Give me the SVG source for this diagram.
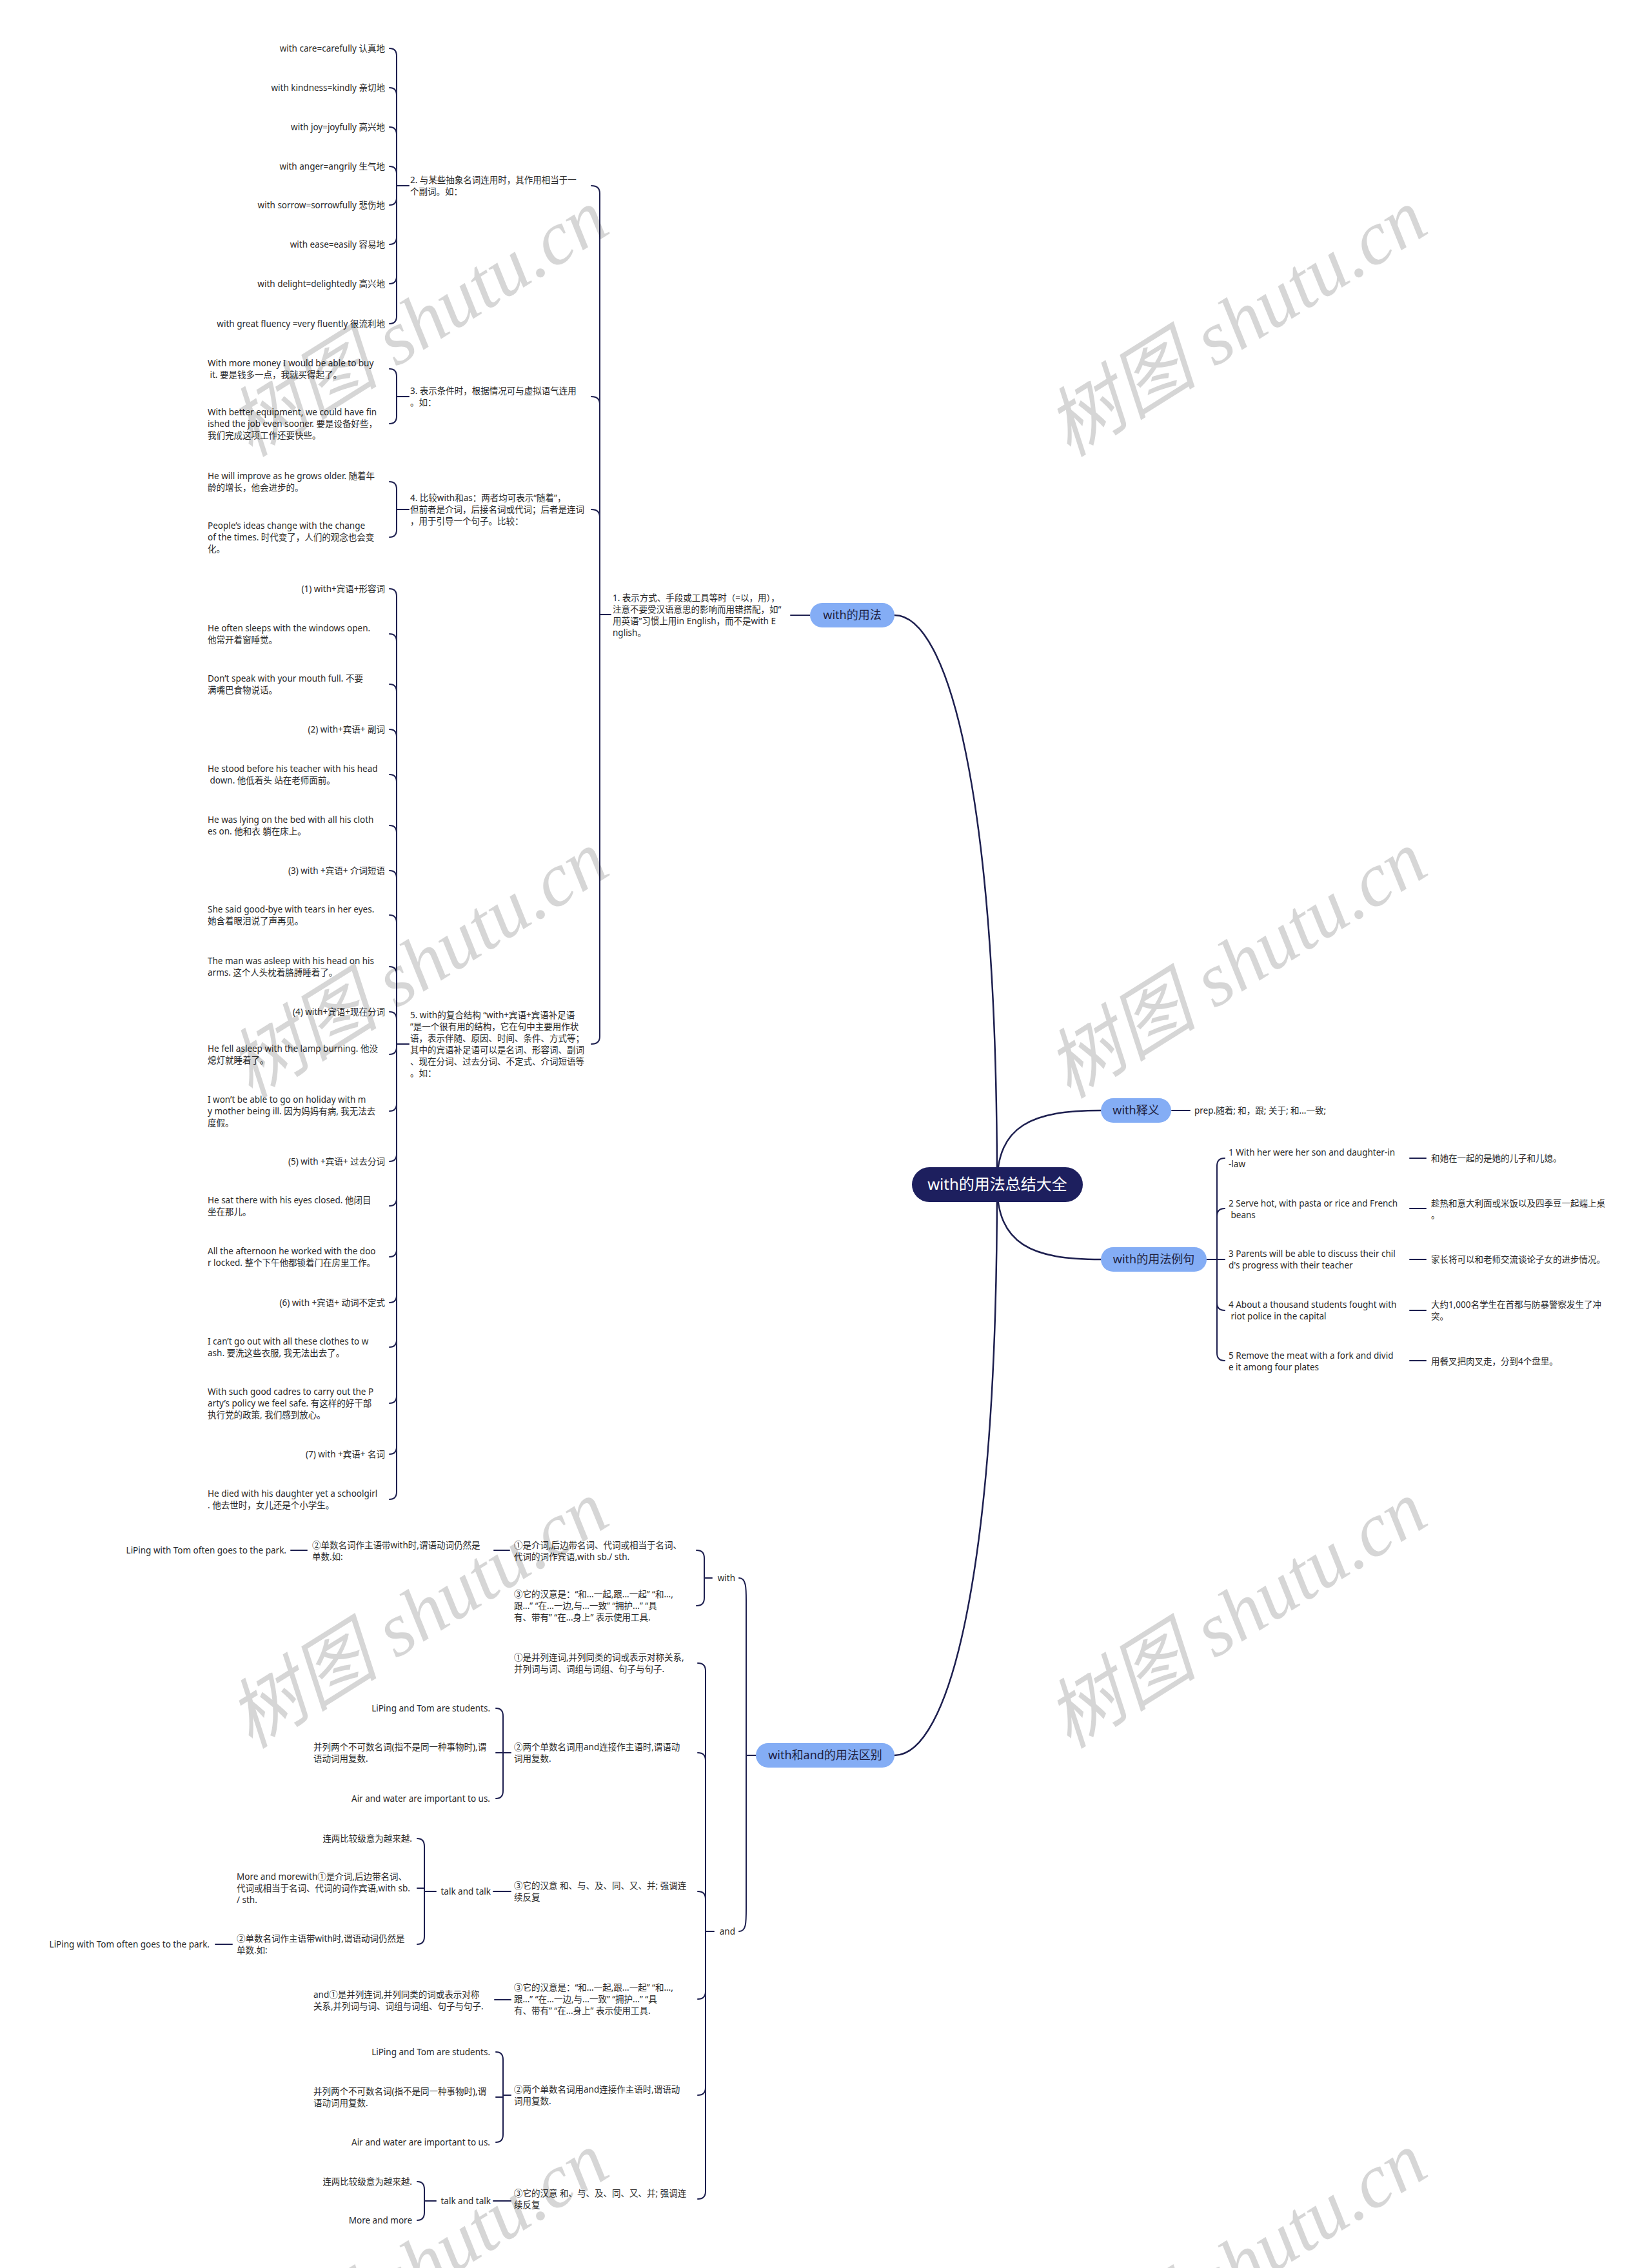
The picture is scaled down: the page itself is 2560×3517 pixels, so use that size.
<svg xmlns="http://www.w3.org/2000/svg" width="2560" height="3517" viewBox="0 0 2560 3517" xml:space="preserve">
<style>
.t{font-family:"Noto Sans","Noto Sans CJK SC",sans-serif;font-size:13.5px;fill:#2a2a2a;white-space:pre}
.e{text-anchor:end}
.nt{font-family:"Noto Sans","Noto Sans CJK SC",sans-serif;font-size:18px;fill:#1e1f3f;text-anchor:middle}
.ct{font-family:"Noto Sans","Noto Sans CJK SC",sans-serif;font-size:24px;fill:#fff;text-anchor:middle}
.nb{fill:#84adf5}
.nc{fill:#1d1f5e}
.ln{fill:none;stroke:#1d1f4f;stroke-width:2;stroke-linecap:round}
.mn{stroke-width:2.5}
.wm{font-family:"Liberation Serif","Noto Sans CJK SC",serif;font-size:118px;font-style:italic;fill:#000;fill-opacity:0.16;text-anchor:middle}
</style>
<rect width="2560" height="3517" fill="#fff"/>
<g id="connectors">
<path class="ln mn" d="M1546 1837C1546 1230 1470 954 1387 954"/>
<path class="ln mn" d="M1546 1837C1546 2450 1470 2722 1387 2722"/>
<path class="ln mn" d="M1546 1837C1546 1745 1600 1722 1707 1722"/>
<path class="ln mn" d="M1546 1837C1546 1930 1600 1953 1707 1953"/>
<path class="ln" d="M1256 954H1226"/>
<path class="ln" d="M947 953H930M930 300V1607M917 288Q930 288 930 300M917 615Q930 615 930 627M917 790Q930 790 930 802M917 1619Q930 1619 930 1607"/>
<path class="ln" d="M634 288H615M615 87V490M604 75Q615 75 615 87M604 136Q615 136 615 148M604 197Q615 197 615 209M604 258Q615 258 615 270M604 318Q615 318 615 306M604 379Q615 379 615 367M604 440Q615 440 615 428M604 502Q615 502 615 490"/>
<path class="ln" d="M634 615H615M615 584V645M604 572Q615 572 615 584M604 657Q615 657 615 645"/>
<path class="ln" d="M634 790H615M615 759V821M604 747Q615 747 615 759M604 833Q615 833 615 821"/>
<path class="ln" d="M634 1619H615M615 925V2313M604 913Q615 913 615 925M604 983Q615 983 615 995M604 1061Q615 1061 615 1073M604 1131Q615 1131 615 1143M604 1201Q615 1201 615 1213M604 1280Q615 1280 615 1292M604 1350Q615 1350 615 1362M604 1419Q615 1419 615 1431M604 1499Q615 1499 615 1511M604 1569Q615 1569 615 1581M604 1635Q615 1635 615 1623M604 1723Q615 1723 615 1711M604 1801Q615 1801 615 1789M604 1870Q615 1870 615 1858M604 1949Q615 1949 615 1937M604 2020Q615 2020 615 2008M604 2089Q615 2089 615 2077M604 2176Q615 2176 615 2164M604 2255Q615 2255 615 2243M604 2325Q615 2325 615 2313"/>
<path class="ln" d="M1817 1722H1845"/>
<path class="ln" d="M1871 1953H1887M1887 1808V2098M1899 1796Q1887 1796 1887 1808M1899 1874Q1887 1874 1887 1886M1887 1953H1899M1899 2032Q1887 2032 1887 2020M1899 2110Q1887 2110 1887 2098"/>
<path class="ln" d="M2186 1796H2211M2186 1874H2211M2186 1953H2211M2186 2032H2211M2186 2110H2211"/>
<path class="ln" d="M1172 2722H1157M1146 2447C1158 2447 1157 2465 1157 2490V2950C1157 2980 1158 2995 1146 2995"/>
<path class="ln" d="M1104 2447H1092M1092 2416V2478M1080 2404Q1092 2404 1092 2416M1080 2490Q1092 2490 1092 2478"/>
<path class="ln" d="M1107 2995H1094M1094 2591V3398M1082 2579Q1094 2579 1094 2591M1082 2718Q1094 2718 1094 2730M1082 2933Q1094 2933 1094 2945M1082 3100Q1094 3100 1094 3088M1082 3249Q1094 3249 1094 3237M1082 3410Q1094 3410 1094 3398"/>
<path class="ln" d="M766 2404H790M451 2404H476"/>
<path class="ln" d="M792 2718H780M780 2661V2777M769 2649Q780 2649 780 2661M769 2718H780M769 2789Q780 2789 780 2777"/>
<path class="ln" d="M765 2933H792M676 2933H658M658 2863V3003M647 2851Q658 2851 658 2863M647 2928H658M647 3015Q658 3015 658 3003M334 3015H360"/>
<path class="ln" d="M767 3101H792"/>
<path class="ln" d="M792 3249H780M780 3194V3310M769 3182Q780 3182 780 3194M769 3252H780M769 3322Q780 3322 780 3310"/>
<path class="ln" d="M765 3413H792M676 3413H658M658 3395V3431M647 3383Q658 3383 658 3395M647 3443Q658 3443 658 3431"/>
</g>
<g id="root"><rect class="nc" x="1414" y="1810" width="265" height="54" rx="27"/><text class="ct" x="1546.5" y="1845">with的用法总结大全</text></g>
<g id="b-usage"><rect class="nb" x="1256" y="935" width="131" height="38" rx="19"/><text class="nt" x="1321.5" y="960">with的用法</text></g>
<g id="b-meaning"><rect class="nb" x="1707" y="1703" width="109" height="38" rx="19"/><text class="nt" x="1761.5" y="1728">with释义</text></g>
<g id="b-examples"><rect class="nb" x="1707" y="1934" width="164" height="38" rx="19"/><text class="nt" x="1789" y="1959">with的用法例句</text></g>
<g id="b-diff"><rect class="nb" x="1172" y="2703" width="215" height="38" rx="19"/><text class="nt" x="1279.5" y="2728">with和and的用法区别</text></g>

<g id="s1"><text class="t"><tspan x="950" y="932">1. 表示方式、手段或工具等时（=以，用），</tspan><tspan x="950" y="950">注意不要受汉语意思的影响而用错搭配，如“</tspan><tspan x="950" y="968">用英语”习惯上用in English，而不是with E</tspan><tspan x="950" y="986">nglish。</tspan></text></g>
<g id="s2"><text class="t"><tspan x="636" y="284">2. 与某些抽象名词连用时，其作用相当于一</tspan><tspan x="636" y="302">个副词。如：</tspan></text></g>
<g id="s3"><text class="t"><tspan x="636" y="611">3. 表示条件时，根据情况可与虚拟语气连用</tspan><tspan x="636" y="629">。如：</tspan></text></g>
<g id="s4"><text class="t"><tspan x="636" y="777">4. 比较with和as：两者均可表示“随着”，</tspan><tspan x="636" y="795">但前者是介词，后接名词或代词；后者是连词</tspan><tspan x="636" y="813">，用于引导一个句子。比较：</tspan></text></g>
<g id="s5"><text class="t"><tspan x="636" y="1579">5. with的复合结构 “with+宾语+宾语补足语</tspan><tspan x="636" y="1597">”是一个很有用的结构，它在句中主要用作状</tspan><tspan x="636" y="1615">语，表示伴随、原因、时间、条件、方式等；</tspan><tspan x="636" y="1633">其中的宾语补足语可以是名词、形容词、副词</tspan><tspan x="636" y="1651">、现在分词、过去分词、不定式、介词短语等</tspan><tspan x="636" y="1669">。如：</tspan></text></g>

<g id="s2-1"><text class="t e" x="597" y="80">with care=carefully 认真地</text></g>
<g id="s2-2"><text class="t e" x="597" y="141">with kindness=kindly 亲切地</text></g>
<g id="s2-3"><text class="t e" x="597" y="202">with joy=joyfully 高兴地</text></g>
<g id="s2-4"><text class="t e" x="597" y="263">with anger=angrily 生气地</text></g>
<g id="s2-5"><text class="t e" x="597" y="323">with sorrow=sorrowfully 悲伤地</text></g>
<g id="s2-6"><text class="t e" x="597" y="384">with ease=easily 容易地</text></g>
<g id="s2-7"><text class="t e" x="597" y="445">with delight=delightedly 高兴地</text></g>
<g id="s2-8"><text class="t e" x="597" y="507">with great fluency =very fluently 很流利地</text></g>

<g id="s3-1"><text class="t"><tspan x="322" y="568">With more money I would be able to buy</tspan><tspan x="322" y="586"> it. 要是钱多一点，我就买得起了。</tspan></text></g>
<g id="s3-2"><text class="t"><tspan x="322" y="644">With better equipment, we could have fin</tspan><tspan x="322" y="662">ished the job even sooner. 要是设备好些，</tspan><tspan x="322" y="680">我们完成这项工作还要快些。</tspan></text></g>
<g id="s4-1"><text class="t"><tspan x="322" y="743">He will improve as he grows older. 随着年</tspan><tspan x="322" y="761">龄的增长，他会进步的。</tspan></text></g>
<g id="s4-2"><text class="t"><tspan x="322" y="820">People’s ideas change with the change</tspan><tspan x="322" y="838">of the times. 时代变了，人们的观念也会变</tspan><tspan x="322" y="856">化。</tspan></text></g>

<g id="s5-1"><text class="t e" x="597" y="918">(1) with+宾语+形容词</text></g>
<g id="s5-2"><text class="t"><tspan x="322" y="979">He often sleeps with the windows open.</tspan><tspan x="322" y="997">他常开着窗睡觉。</tspan></text></g>
<g id="s5-3"><text class="t"><tspan x="322" y="1057">Don’t speak with your mouth full. 不要</tspan><tspan x="322" y="1075">满嘴巴食物说话。</tspan></text></g>
<g id="s5-4"><text class="t e" x="597" y="1136">(2) with+宾语+ 副词</text></g>
<g id="s5-5"><text class="t"><tspan x="322" y="1197">He stood before his teacher with his head</tspan><tspan x="322" y="1215"> down. 他低着头 站在老师面前。</tspan></text></g>
<g id="s5-6"><text class="t"><tspan x="322" y="1276">He was lying on the bed with all his cloth</tspan><tspan x="322" y="1294">es on. 他和衣 躺在床上。</tspan></text></g>
<g id="s5-7"><text class="t e" x="597" y="1355">(3) with +宾语+ 介词短语</text></g>
<g id="s5-8"><text class="t"><tspan x="322" y="1415">She said good-bye with tears in her eyes.</tspan><tspan x="322" y="1433">她含着眼泪说了声再见。</tspan></text></g>
<g id="s5-9"><text class="t"><tspan x="322" y="1495">The man was asleep with his head on his</tspan><tspan x="322" y="1513">arms. 这个人头枕着胳膊睡着了。</tspan></text></g>
<g id="s5-10"><text class="t e" x="597" y="1574">(4) with+宾语+现在分词</text></g>
<g id="s5-11"><text class="t"><tspan x="322" y="1631">He fell asleep with the lamp burning. 他没</tspan><tspan x="322" y="1649">熄灯就睡着了。</tspan></text></g>
<g id="s5-12"><text class="t"><tspan x="322" y="1710">I won’t be able to go on holiday with m</tspan><tspan x="322" y="1728">y mother being ill. 因为妈妈有病, 我无法去</tspan><tspan x="322" y="1746">度假。</tspan></text></g>
<g id="s5-13"><text class="t e" x="597" y="1806">(5) with +宾语+ 过去分词</text></g>
<g id="s5-14"><text class="t"><tspan x="322" y="1866">He sat there with his eyes closed. 他闭目</tspan><tspan x="322" y="1884">坐在那儿。</tspan></text></g>
<g id="s5-15"><text class="t"><tspan x="322" y="1945">All the afternoon he worked with the doo</tspan><tspan x="322" y="1963">r locked. 整个下午他都锁着门在房里工作。</tspan></text></g>
<g id="s5-16"><text class="t e" x="597" y="2025">(6) with +宾语+ 动词不定式</text></g>
<g id="s5-17"><text class="t"><tspan x="322" y="2085">I can’t go out with all these clothes to w</tspan><tspan x="322" y="2103">ash. 要洗这些衣服, 我无法出去了。</tspan></text></g>
<g id="s5-18"><text class="t"><tspan x="322" y="2163">With such good cadres to carry out the P</tspan><tspan x="322" y="2181">arty’s policy we feel safe. 有这样的好干部</tspan><tspan x="322" y="2199">执行党的政策, 我们感到放心。</tspan></text></g>
<g id="s5-19"><text class="t e" x="597" y="2260">(7) with +宾语+ 名词</text></g>
<g id="s5-20"><text class="t"><tspan x="322" y="2321">He died with his daughter yet a schoolgirl</tspan><tspan x="322" y="2339">. 他去世时，女儿还是个小学生。</tspan></text></g>

<g id="m-1"><text class="t" x="1852" y="1727">prep.随着; 和，跟; 关于; 和...一致;</text></g>

<g id="ex-1"><text class="t"><tspan x="1905" y="1792">1 With her were her son and daughter-in</tspan><tspan x="1905" y="1810">-law</tspan></text></g>
<g id="ex-2"><text class="t"><tspan x="1905" y="1871">2 Serve hot, with pasta or rice and French</tspan><tspan x="1905" y="1889"> beans</tspan></text></g>
<g id="ex-3"><text class="t"><tspan x="1905" y="1949">3 Parents will be able to discuss their chil</tspan><tspan x="1905" y="1967">d's progress with their teacher</tspan></text></g>
<g id="ex-4"><text class="t"><tspan x="1905" y="2028">4 About a thousand students fought with</tspan><tspan x="1905" y="2046"> riot police in the capital</tspan></text></g>
<g id="ex-5"><text class="t"><tspan x="1905" y="2107">5 Remove the meat with a fork and divid</tspan><tspan x="1905" y="2125">e it among four plates</tspan></text></g>
<g id="tr-1"><text class="t" x="2219" y="1801">和她在一起的是她的儿子和儿媳。</text></g>
<g id="tr-2"><text class="t"><tspan x="2219" y="1871">趁热和意大利面或米饭以及四季豆一起端上桌</tspan><tspan x="2219" y="1889">。</tspan></text></g>
<g id="tr-3"><text class="t" x="2219" y="1958">家长将可以和老师交流谈论子女的进步情况。</text></g>
<g id="tr-4"><text class="t"><tspan x="2219" y="2028">大约1,000名学生在首都与防暴警察发生了冲</tspan><tspan x="2219" y="2046">突。</tspan></text></g>
<g id="tr-5"><text class="t" x="2219" y="2116">用餐叉把肉叉走，分到4个盘里。</text></g>

<g id="d-with"><text class="t e" x="1140" y="2452">with</text></g>
<g id="d-and"><text class="t e" x="1140" y="3000">and</text></g>
<g id="w-1"><text class="t"><tspan x="797" y="2401">①是介词,后边带名词、代词或相当于名词、</tspan><tspan x="797" y="2419">代词的词作宾语,with sb./ sth.</tspan></text></g>
<g id="w-1-1"><text class="t"><tspan x="484" y="2401">②单数名词作主语带with时,谓语动词仍然是</tspan><tspan x="484" y="2419">单数.如:</tspan></text></g>
<g id="w-1-1-1"><text class="t e" x="444" y="2409">LiPing with Tom often goes to the park.</text></g>
<g id="w-2"><text class="t"><tspan x="797" y="2477">③它的汉意是：“和...一起,跟...一起” “和...,</tspan><tspan x="797" y="2495">跟...” “在...一边,与...一致” “拥护...” “具</tspan><tspan x="797" y="2513">有、带有” “在...身上” 表示使用工具.</tspan></text></g>

<g id="a-1"><text class="t"><tspan x="797" y="2575">①是并列连词,并列同类的词或表示对称关系,</tspan><tspan x="797" y="2593">并列词与词、词组与词组、句子与句子.</tspan></text></g>
<g id="a-2"><text class="t"><tspan x="797" y="2714">②两个单数名词用and连接作主语时,谓语动</tspan><tspan x="797" y="2732">词用复数.</tspan></text></g>
<g id="a-2-1"><text class="t e" x="760" y="2654">LiPing and Tom are students.</text></g>
<g id="a-2-2"><text class="t"><tspan x="486" y="2714">并列两个不可数名词(指不是同一种事物时),谓</tspan><tspan x="486" y="2732">语动词用复数.</tspan></text></g>
<g id="a-2-3"><text class="t e" x="760" y="2794">Air and water are important to us.</text></g>
<g id="a-3"><text class="t"><tspan x="797" y="2929">③它的汉意 和、与、及、同、又、并; 强调连</tspan><tspan x="797" y="2947">续反复</tspan></text></g>
<g id="a-3-1"><text class="t e" x="761" y="2938">talk and talk</text></g>
<g id="a-3-1-1"><text class="t e" x="639" y="2856">连两比较级意为越来越.</text></g>
<g id="a-3-1-2"><text class="t"><tspan x="367" y="2915">More and morewith①是介词,后边带名词、</tspan><tspan x="367" y="2933">代词或相当于名词、代词的词作宾语,with sb.</tspan><tspan x="367" y="2951">/ sth.</tspan></text></g>
<g id="a-3-1-3"><text class="t"><tspan x="367" y="3011">②单数名词作主语带with时,谓语动词仍然是</tspan><tspan x="367" y="3029">单数.如:</tspan></text></g>
<g id="a-3-1-3-1"><text class="t e" x="325" y="3020">LiPing with Tom often goes to the park.</text></g>
<g id="a-4"><text class="t"><tspan x="797" y="3087">③它的汉意是：“和...一起,跟...一起” “和...,</tspan><tspan x="797" y="3105">跟...” “在...一边,与...一致” “拥护...” “具</tspan><tspan x="797" y="3123">有、带有” “在...身上” 表示使用工具.</tspan></text></g>
<g id="a-4-1"><text class="t"><tspan x="486" y="3098">and①是并列连词,并列同类的词或表示对称</tspan><tspan x="486" y="3116">关系,并列词与词、词组与词组、句子与句子.</tspan></text></g>
<g id="a-5"><text class="t"><tspan x="797" y="3245">②两个单数名词用and连接作主语时,谓语动</tspan><tspan x="797" y="3263">词用复数.</tspan></text></g>
<g id="a-5-1"><text class="t e" x="760" y="3187">LiPing and Tom are students.</text></g>
<g id="a-5-2"><text class="t"><tspan x="486" y="3248">并列两个不可数名词(指不是同一种事物时),谓</tspan><tspan x="486" y="3266">语动词用复数.</tspan></text></g>
<g id="a-5-3"><text class="t e" x="760" y="3327">Air and water are important to us.</text></g>
<g id="a-6"><text class="t"><tspan x="797" y="3406">③它的汉意 和、与、及、同、又、并; 强调连</tspan><tspan x="797" y="3424">续反复</tspan></text></g>
<g id="a-6-1"><text class="t e" x="761" y="3418">talk and talk</text></g>
<g id="a-6-1-1"><text class="t e" x="639" y="3388">连两比较级意为越来越.</text></g>
<g id="a-6-1-2"><text class="t e" x="639" y="3448">More and more</text></g>

<g id="watermark">
<text class="wm" x="651" y="540" transform="rotate(-32 651 505)">树图 shutu.cn</text>
<text class="wm" x="1920" y="540" transform="rotate(-32 1920 505)">树图 shutu.cn</text>
<text class="wm" x="651" y="1535" transform="rotate(-32 651 1500)">树图 shutu.cn</text>
<text class="wm" x="1920" y="1535" transform="rotate(-32 1920 1500)">树图 shutu.cn</text>
<text class="wm" x="651" y="2543" transform="rotate(-32 651 2508)">树图 shutu.cn</text>
<text class="wm" x="1920" y="2543" transform="rotate(-32 1920 2508)">树图 shutu.cn</text>
<text class="wm" x="651" y="3553" transform="rotate(-32 651 3518)">树图 shutu.cn</text>
<text class="wm" x="1920" y="3553" transform="rotate(-32 1920 3518)">树图 shutu.cn</text>
</g>
</svg>
